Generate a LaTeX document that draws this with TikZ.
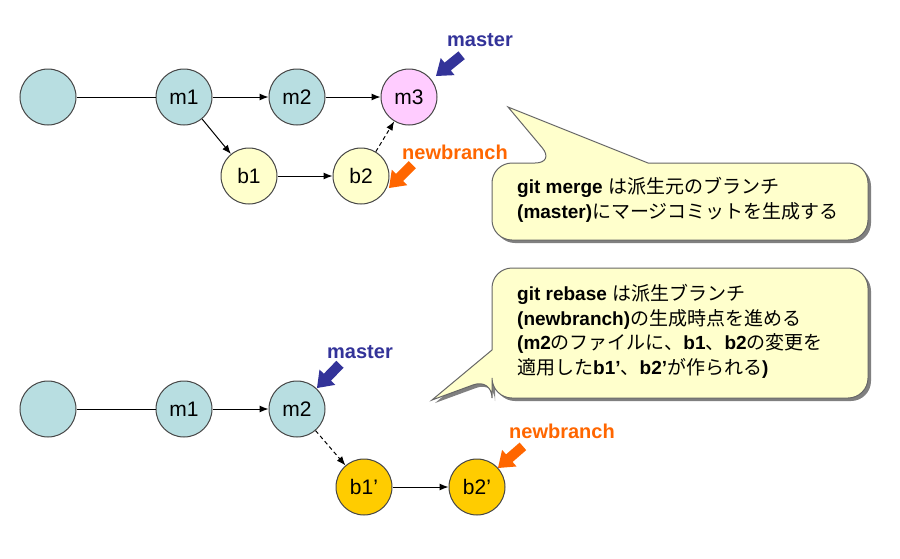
\documentclass[tikz,border=0pt]{standalone}
\usepackage{fontspec}
\setmainfont{Liberation Sans}
\newfontfamily\jp{Noto Sans CJK JP}
\usetikzlibrary{arrows.meta}
\definecolor{cblue}{RGB}{184,222,225}
\definecolor{cpink}{RGB}{255,204,255}
\definecolor{cyel}{RGB}{255,255,204}
\definecolor{cgold}{RGB}{255,204,0}
\definecolor{mblue}{RGB}{51,51,153}
\definecolor{norange}{RGB}{255,102,0}
\definecolor{cborder}{RGB}{70,70,70}
\newcommand\blockarrow[3]{%
  \begin{scope}[shift={(#2)},rotate=#3]
    \fill[#1] (0,0) -- (-15,11) -- (-15,5) -- (-33,5) -- (-33,-5) -- (-15,-5) -- (-15,-11) -- cycle;
  \end{scope}}
\newcommand\calloutA{(492,200) [rounded corners=20] -- (492,163) -- (555,163) [sharp corners] -- (508,107) -- (648,163) [rounded corners=20] -- (868,163) -- (868,240) -- (492,240) -- cycle}
\newcommand\calloutB{(680,268) [rounded corners=20] -- (868,268) -- (868,398) -- (492,398) -- (492,378) [sharp corners] -- (432,400) -- (492,350) [rounded corners=20] -- (492,268) -- cycle}
\begin{document}
\begin{tikzpicture}[x=1pt,y=-1pt,
  commit/.style={circle,draw=cborder,line width=1pt,minimum size=56pt,inner sep=0pt,font=\fontsize{21}{24}\selectfont},
  mnode/.style={commit,fill=cblue},
  bnode/.style={commit,fill=cyel},
  pnode/.style={commit,fill=cpink},
  gnode/.style={commit,fill=cgold},
  edge/.style={line width=1pt,-{Latex[length=9pt,width=7pt]}},
  plain/.style={line width=1pt},
  dedge/.style={edge,dash pattern=on 4pt off 3pt},
  blabel/.style={font=\fontsize{20}{24}\selectfont\bfseries},
  callout/.style={fill=cyel,draw=black!60,line width=1pt},
  cshadow/.style={fill=black!50},
  ctext/.style={anchor=north west,inner sep=0pt,align=left,font=\fontsize{19}{24.7}\selectfont}
]
\useasboundingbox (0,0) rectangle (900,558);

% top graph
\node[mnode] (t0) at (48,97) {};
\node[mnode] (tm1) at (184,97) {m1};
\node[mnode] (tm2) at (297,97) {m2};
\node[pnode] (tm3) at (409,97) {m3};
\node[bnode] (tb1) at (249,176) {b1};
\node[bnode] (tb2) at (361,176) {b2};
\draw[plain] (t0) -- (tm1);
\draw[edge] (tm1) -- (tm2);
\draw[edge] (tm2) -- (tm3);
\draw[edge] (tm1) -- (tb1);
\draw[edge] (tb1) -- (tb2);
\draw[dedge] (tb2) -- (tm3);

\node[blabel,text=mblue] (tmaster) at (480,40) {master};
\blockarrow{mblue}{436,76}{219}
\node[blabel,text=norange] (tnew) at (455,152) {newbranch};
\blockarrow{norange}{389,188}{225}

% bottom graph
\node[mnode] (u0) at (48,409) {};
\node[mnode] (um1) at (184,409) {m1};
\node[mnode] (um2) at (297,409) {m2};
\node[gnode] (ub1) at (364,487) {b1’};
\node[gnode] (ub2) at (477,487) {b2’};
\draw[plain] (u0) -- (um1);
\draw[edge] (um1) -- (um2);
\draw[dedge] (um2) -- (ub1);
\draw[edge] (ub1) -- (ub2);

\node[blabel,text=mblue] (umaster) at (360,352) {master};
\blockarrow{mblue}{317,388}{226}
\node[blabel,text=norange] (unew) at (562,431) {newbranch};
\blockarrow{norange}{498,468}{221}

% callouts
\fill[cshadow,shift={(3,3)}] \calloutA;
\path[callout] \calloutA;
\node[ctext] (c1) at (517,177) {\textbf{git merge} {\jp は派生元のブランチ}\\\textbf{(master)}{\jp にマージコミットを生成する}};

\fill[cshadow,shift={(3,3)}] \calloutB;
\path[callout] \calloutB;
\node[ctext] (c2) at (517,284) {\textbf{git rebase} {\jp は派生ブランチ}\\\textbf{(newbranch)}{\jp の生成時点を進める}\\\textbf{(m2}{\jp のファイルに、}\textbf{b1}{\jp 、}\textbf{b2}{\jp の変更を}\\{\jp 適用した}\textbf{b1’}{\jp 、}\textbf{b2’}{\jp が作られる}\textbf{)}};
\end{tikzpicture}
\end{document}
